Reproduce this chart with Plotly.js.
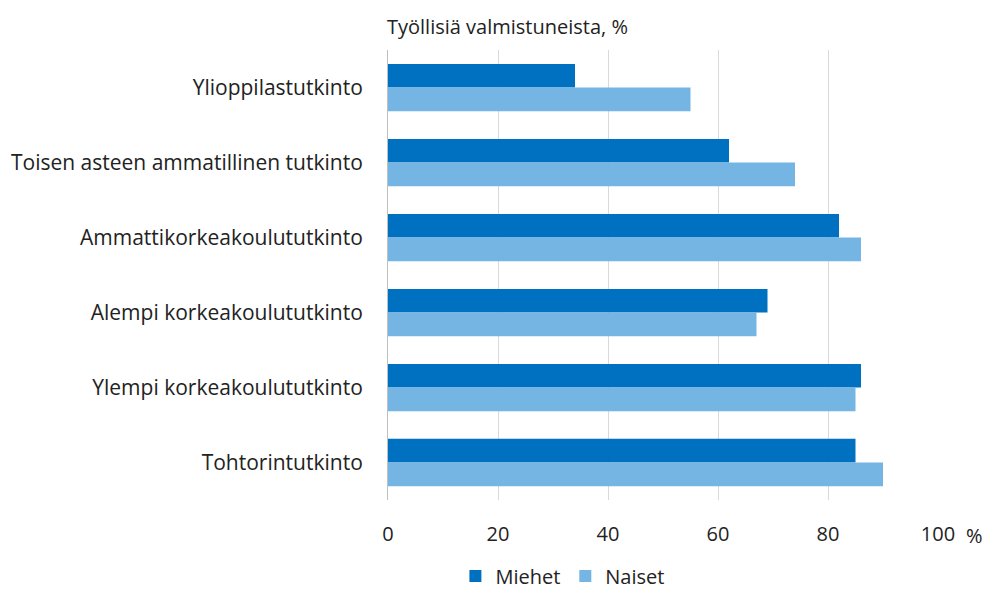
<!DOCTYPE html>
<html>
<head>
<meta charset="utf-8">
<script src="https://cdn.plot.ly/plotly-3.0.1.min.js"></script>
<style>html,body{margin:0;padding:0;background:#fff;}#chart{width:989px;height:589px;}</style>
</head>
<body>
<div id="chart"></div>
<script>
const categories = [
  "Ylioppilastutkinto",
  "Toisen asteen ammatillinen tutkinto",
  "Ammattikorkeakoulututkinto",
  "Alempi korkeakoulututkinto",
  "Ylempi korkeakoulututkinto",
  "Tohtorintutkinto"
];
const miehet = [34, 62, 82, 69, 86, 85];
const naiset = [55, 74, 86, 67, 85, 90];
const tickValues = [0, 20, 40, 60, 80, 100];
const tickLabels = ["0", "20", "40", "60", "80", "100"];

const fontFam = "'Open Sans', 'Noto Sans', sans-serif";
const fs = 21;
const data = [
  {type: 'bar', orientation: 'h', name: 'Miehet', y: categories, x: miehet,
   marker: {color: '#0070C0'}},
  {type: 'bar', orientation: 'h', name: 'Naiset', y: categories, x: naiset,
   marker: {color: '#75B5E3'}}
];
const layout = {
  width: 989, height: 589,
  margin: {l: 388, r: 51, t: 50, b: 89, autoexpand: false},
  paper_bgcolor: '#fff', plot_bgcolor: '#fff',
  barmode: 'group', bargap: 0.37, bargroupgap: 0,
  font: {family: fontFam, size: fs, color: '#222'},
  xaxis: {range: [0, 100], tickvals: tickValues, ticktext: tickLabels,
    showgrid: true, gridcolor: '#d9d9d9', gridwidth: 1, zeroline: false,
    showline: false, ticks: '', ticklabelstandoff: 20, automargin: false,
    tickfont: {size: fs - 1, color: '#222'}},
  yaxis: {autorange: 'reversed', showgrid: false, zeroline: false,
    showline: true, linecolor: '#bfbfbf', linewidth: 1, ticks: '',
    ticklabelstandoff: 20, automargin: false, tickfont: {size: fs, color: '#222'}},
  legend: {orientation: 'h', x: 0.318, xanchor: 'center', yref: 'container', y: 0.055, yanchor: 'top',
    font: {size: fs - 1, color: '#222'}, traceorder: 'normal'},
  showlegend: true,
  annotations: [
    {text: 'Työllisiä valmistuneista, %', xref: 'paper', yref: 'paper', x: 0, y: 1,
     xanchor: 'left', yanchor: 'bottom', yshift: 8, xshift: -3, showarrow: false,
     font: {size: fs - 1, color: '#222'}},
    {text: '%', xref: 'paper', yref: 'paper', x: 1, y: 0, xanchor: 'left', yanchor: 'top',
     xshift: 26, yshift: -20, showarrow: false, font: {size: fs - 1, color: '#222'}}
  ]
};
Plotly.newPlot('chart', data, layout, {displayModeBar: false, staticPlot: true});
</script>
</body>
</html>
